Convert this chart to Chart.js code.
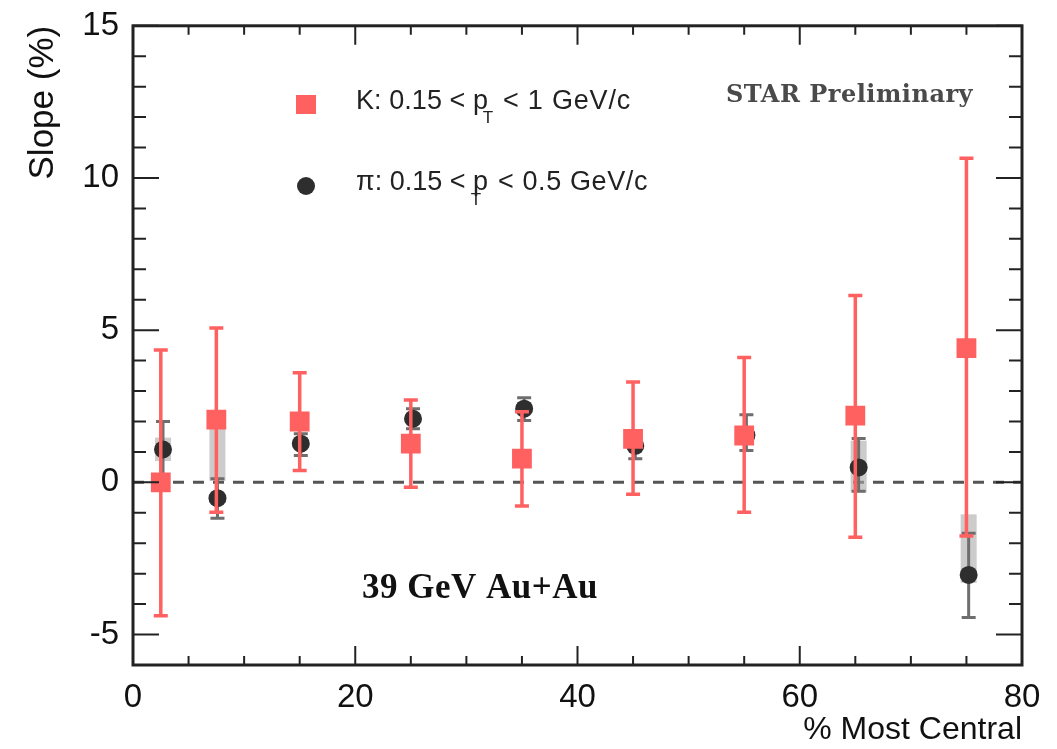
<!DOCTYPE html>
<html>
<head>
<meta charset="utf-8">
<script src="https://cdn.jsdelivr.net/npm/chart.js@4.4.0/dist/chart.umd.min.js"></script>
<style>
  html, body { margin: 0; padding: 0; background: #fff; }
  #wrap { width: 1057px; height: 749px; }
</style>
</head>
<body>
<div id="wrap"><canvas id="chart"></canvas></div>
<script>
// centrality bins (% most central)
const kCent = [2.5, 7.5, 15, 25, 35, 45, 55, 65, 75]
const piCent = [2.7, 7.6, 15.1, 25.2, 35.2, 45.2, 55.2, 65.3, 75.2]

// kaon slope (%) with statistical error ends
const kSlope = [0.0, 2.06, 2.0, 1.27, 0.78, 1.43, 1.54, 2.19, 4.41]
const kLow = [-4.38, -0.98, 0.39, -0.16, -0.78, -0.39, -0.98, -1.8, -1.76]
const kHigh = [4.35, 5.07, 3.6, 2.71, 2.32, 3.3, 4.1, 6.14, 10.65]

// pion slope (%) with statistical error ends and systematic box
const piSlope = [1.08, -0.52, 1.27, 2.09, 2.42, 1.2, 1.55, 0.49, -3.04]
const piLow = [0.16, -1.18, 0.88, 1.76, 2.03, 0.78, 1.05, -0.29, -4.44]
const piHigh = [2.0, 0.12, 1.6, 2.42, 2.78, 1.62, 2.22, 1.44, -1.67]
const piSysLow = [0.7, 0.05, 1.12, 1.95, 2.28, 1.06, 1.4, -0.33, -3.3]
const piSysHigh = [1.47, 1.8, 1.42, 2.23, 2.56, 1.34, 1.7, 1.37, -1.05]

const xTicks = [0, 20, 40, 60, 80]
const yTicks = [-5, 0, 5, 10, 15]

const RED = '#ff6161'
const DARK = '#2e2e2e'
const SANS = '"Liberation Sans", Arial, Helvetica, sans-serif'

function spreadText(ctx, text, x0, x1, y) {
  ctx.letterSpacing = '0px'
  const w = ctx.measureText(text).width
  const sp = Math.max(0, (x1 - x0 - w) / text.length)
  ctx.letterSpacing = sp + 'px'
  ctx.fillText(text, x0, y)
  ctx.letterSpacing = '0px'
}

const decor = {
  id: 'decor',
  beforeDatasetsDraw(chart) {
    const { ctx, chartArea: a, scales: { y } } = chart
    // dashed zero line
    ctx.save()
    ctx.strokeStyle = '#555'
    ctx.lineWidth = 3
    ctx.setLineDash([11, 9])
    const y0 = y.getPixelForValue(0)
    ctx.beginPath()
    ctx.moveTo(a.left, y0)
    ctx.lineTo(a.right, y0)
    ctx.stroke()
    ctx.restore()
  },
  beforeDatasetDraw(chart, args) {
    const { ctx, scales: { x, y } } = chart
    ctx.save()
    if (args.index === 1) {
      // pion systematic boxes
      ctx.fillStyle = 'rgba(170,170,170,0.6)'
      piCent.forEach((c, i) => {
        const px = x.getPixelForValue(c)
        const t = y.getPixelForValue(piSysHigh[i])
        const b = y.getPixelForValue(piSysLow[i])
        ctx.fillRect(px - 8, t, 16, b - t)
      })
      // pion stat errors
      ctx.strokeStyle = '#6e6e6e'
      ctx.lineWidth = 3
      piCent.forEach((c, i) => {
        const px = x.getPixelForValue(c)
        const t = y.getPixelForValue(piHigh[i])
        const b = y.getPixelForValue(piLow[i])
        ctx.beginPath()
        ctx.moveTo(px, t); ctx.lineTo(px, b)
        ctx.moveTo(px - 7, t); ctx.lineTo(px + 7, t)
        ctx.moveTo(px - 7, b); ctx.lineTo(px + 7, b)
        ctx.stroke()
      })
    } else if (args.index === 0) {
      ctx.strokeStyle = RED
      ctx.lineWidth = 3.5
      kCent.forEach((c, i) => {
        const px = x.getPixelForValue(c)
        const t = y.getPixelForValue(kHigh[i])
        const b = y.getPixelForValue(kLow[i])
        ctx.beginPath()
        ctx.moveTo(px, t); ctx.lineTo(px, b)
        ctx.moveTo(px - 7, t); ctx.lineTo(px + 7, t)
        ctx.moveTo(px - 7, b); ctx.lineTo(px + 7, b)
        ctx.stroke()
      })
    }
    ctx.restore()
  },
  afterDraw(chart) {
    const { ctx, chartArea: a, scales: { x, y } } = chart
    ctx.save()
    // frame
    ctx.strokeStyle = '#222'
    ctx.lineWidth = 3
    ctx.strokeRect(a.left, a.top, a.right - a.left, a.bottom - a.top)
    // tick marks, pointing inward like ROOT
    ctx.lineWidth = 2
    ctx.beginPath()
    for (let v = 0; v <= 80; v += 5) {
      const px = x.getPixelForValue(v)
      const len = v % 20 === 0 ? 19 : 9
      ctx.moveTo(px, a.bottom); ctx.lineTo(px, a.bottom - len)
      ctx.moveTo(px, a.top); ctx.lineTo(px, a.top + len)
    }
    for (let v = -6; v <= 15; v += 1) {
      const py = y.getPixelForValue(v)
      const len = v % 5 === 0 ? 26 : 13
      ctx.moveTo(a.left, py); ctx.lineTo(a.left + len, py)
      ctx.moveTo(a.right, py); ctx.lineTo(a.right - len, py)
    }
    ctx.stroke()

    // legend
    ctx.fillStyle = RED
    ctx.fillRect(296, 95, 20, 19)
    ctx.fillStyle = DARK
    ctx.beginPath()
    ctx.arc(306, 186, 9, 0, Math.PI * 2)
    ctx.fill()

    ctx.fillStyle = '#222'
    ctx.textAlign = 'left'
    ctx.textBaseline = 'alphabetic'
    ctx.font = '27px ' + SANS
    spreadText(ctx, 'K: 0.15 < p', 356, 488, 109)
    spreadText(ctx, '< 1 GeV/c', 503, 631, 109)
    spreadText(ctx, 'π: 0.15 < p', 356, 486, 190)
    spreadText(ctx, '< 0.5 GeV/c', 498, 648, 190)
    ctx.font = '17px ' + SANS
    ctx.textAlign = 'center'
    ctx.fillText('T', 488, 123)
    ctx.fillText('T', 476, 205)

    // STAR label
    ctx.textAlign = 'left'
    ctx.fillStyle = '#4a4a4a'
    ctx.font = 'bold 24px "DejaVu Serif", serif'
    spreadText(ctx, 'STAR Preliminary', 726, 973, 102)

    // energy label
    ctx.fillStyle = '#111'
    ctx.font = 'bold 35px "Liberation Serif", "Times New Roman", serif'
    spreadText(ctx, '39 GeV Au+Au', 362, 598, 598)
    ctx.restore()
  }
}

new Chart(document.getElementById('chart'), {
  type: 'scatter',
  data: {
    datasets: [
      {
        label: 'K',
        data: kCent.map((c, i) => ({ x: c, y: kSlope[i] })),
        pointStyle: 'rect',
        pointRadius: 14,
        backgroundColor: RED,
        borderWidth: 0,
        order: 0,
      },
      {
        label: 'pi',
        data: piCent.map((c, i) => ({ x: c, y: piSlope[i] })),
        pointStyle: 'circle',
        pointRadius: 9,
        backgroundColor: DARK,
        borderWidth: 0,
        order: 1,
      },
    ],
  },
  options: {
    responsive: true,
    maintainAspectRatio: false,
    animation: false,
    devicePixelRatio: 1,
    layout: { padding: { left: 0, right: 35, top: 18, bottom: 0 } },
    plugins: {
      legend: { display: false },
      tooltip: { enabled: false },
    },
    scales: {
      x: {
        type: 'linear',
        min: 0,
        max: 80,
        afterBuildTicks: s => { s.ticks = xTicks.map(v => ({ value: v })) },
        afterFit: s => { s.height = 84 },
        grid: { display: false },
        border: { display: false },
        ticks: {
          color: '#111',
          padding: 5,
          maxRotation: 0,
          autoSkip: false,
          font: { family: SANS, size: 33 },
        },
        title: {
          display: true,
          text: '% Most Central',
          align: 'end',
          color: '#111',
          padding: { top: 0, bottom: 0 },
          font: { family: SANS, size: 32 },
        },
      },
      y: {
        type: 'linear',
        min: -6,
        max: 15,
        afterBuildTicks: s => { s.ticks = yTicks.map(v => ({ value: v })) },
        afterFit: s => { s.width = 133 },
        grid: { display: false },
        border: { display: false },
        ticks: {
          color: '#111',
          padding: 6,
          font: { family: SANS, size: 33 },
        },
        title: {
          display: true,
          text: 'Slope (%)',
          align: 'end',
          color: '#111',
          padding: { top: 22, bottom: 0 },
          font: { family: SANS, size: 35 },
        },
      },
    },
  },
  plugins: [decor],
})
</script>
</body>
</html>
